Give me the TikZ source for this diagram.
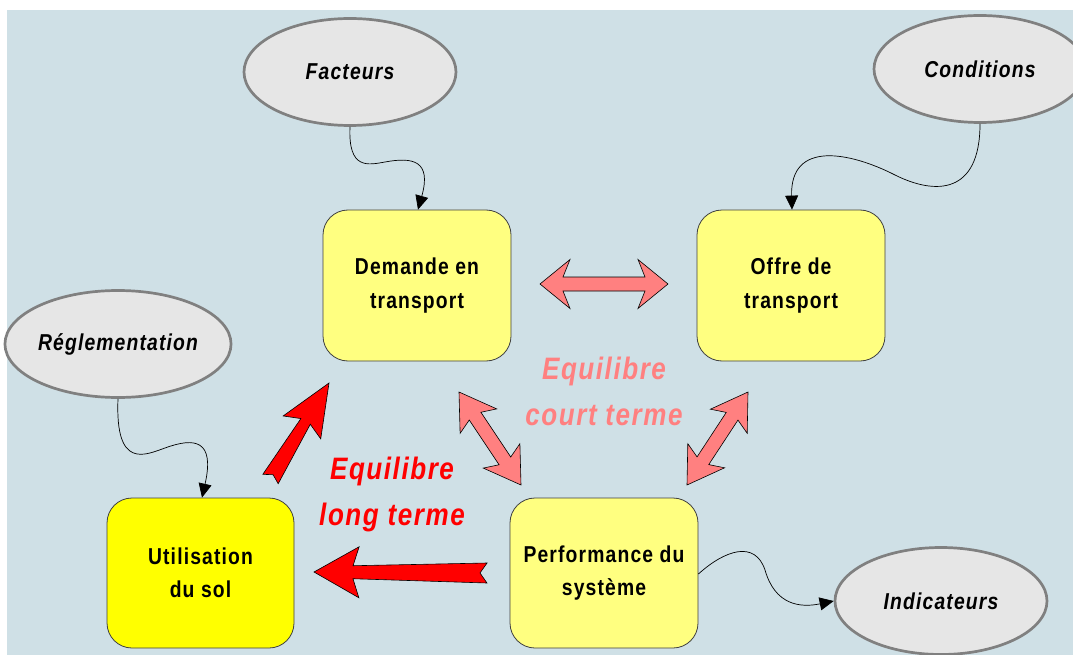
\documentclass[tikz,border=0pt]{standalone}
\usepackage{fontspec}
\setmainfont{Liberation Sans}[FakeStretch=0.84,LetterSpace=5]
\usetikzlibrary{shapes.geometric,arrows.meta,calc}

\definecolor{bgblue}{RGB}{207,224,230}
\definecolor{paleyellow}{RGB}{255,255,128}
\definecolor{brightyellow}{RGB}{255,255,0}
\definecolor{ovalgrey}{RGB}{230,230,230}
\definecolor{ovalrim}{RGB}{128,128,128}
\definecolor{shortpink}{RGB}{255,128,128}
\definecolor{longred}{RGB}{255,0,0}

% Double-headed block arrow between #2 and #3:
% #4 head length, #5 distance to shaft junction, #6 head half-width, #7 shaft half-width
\newcommand\dblblock[7]{%
  \draw[#1] (#2)
    -- ($(#2)!#4pt!(#3)!#6pt!90:(#3)$)
    -- ($(#2)!#5pt!(#3)!#7pt!90:(#3)$)
    -- ($(#3)!#5pt!(#2)!#7pt!-90:(#2)$)
    -- ($(#3)!#4pt!(#2)!#6pt!-90:(#2)$)
    -- (#3)
    -- ($(#3)!#4pt!(#2)!#6pt!90:(#2)$)
    -- ($(#3)!#5pt!(#2)!#7pt!90:(#2)$)
    -- ($(#2)!#5pt!(#3)!#7pt!-90:(#3)$)
    -- ($(#2)!#4pt!(#3)!#6pt!-90:(#3)$)
    -- cycle;}

% Single block arrow with notched tail from #2 (tail) to #3 (tip):
% #4 head length, #5 junction distance, #6 head half-width,
% #7 shaft half-width at head, #8 shaft half-width at tail, #9 notch depth
\newcommand\oneblock[9]{%
  \draw[#1] (#3)
    -- ($(#3)!#4pt!(#2)!#6pt!-90:(#2)$)
    -- ($(#3)!#5pt!(#2)!#7pt!-90:(#2)$)
    -- ($(#2)!#8pt!90:(#3)$)
    -- ($(#2)!#9pt!(#3)$)
    -- ($(#2)!#8pt!-90:(#3)$)
    -- ($(#3)!#5pt!(#2)!#7pt!90:(#2)$)
    -- ($(#3)!#4pt!(#2)!#6pt!90:(#2)$)
    -- cycle;}

\tikzset{
  box/.style={rectangle, rounded corners=25pt, draw=black!75, line width=0.8pt,
    fill=paleyellow, minimum width=188pt, minimum height=151pt, inner sep=0pt,
    align=center, font=\fontsize{23}{33.5}\selectfont\bfseries},
  oval/.style={ellipse, draw=ovalrim, line width=2.7pt, fill=ovalgrey,
    minimum width=212pt, minimum height=107pt, inner sep=0pt,
    font=\fontsize{23}{26}\selectfont\bfseries\itshape},
  link/.style={draw=black, line width=0.7pt, -{Triangle[length=14pt,width=13pt]}},
  blockshort/.style={fill=shortpink, draw=black, line width=0.6pt, line join=miter},
  blocklong/.style={fill=longred, draw=black, line width=0.6pt, line join=miter},
  eqtext/.style={align=center, inner sep=0pt, font=\fontsize{31}{46}\selectfont\bfseries\itshape}
}

\begin{document}
\begin{tikzpicture}[x=1pt,y=-1pt]
  \useasboundingbox (0,0) rectangle (1073,655);
  \fill[white] (0,0) rectangle (1073,655);
  \fill[bgblue] (7,10) rectangle (1073,655);

  % main blocks
  \node[box] (dem) at (417,285.5) {\raisebox{-2pt}{Demande en}\\\raisebox{-2pt}{transport}};
  \node[box] (off) at (791,285.5) {\raisebox{-2pt}{Offre de}\\\raisebox{-2pt}{transport}};
  \node[box, fill=brightyellow, minimum width=187pt, minimum height=150pt] (uti) at (200.5,573) {Utilisation\\du sol};
  \node[box, minimum height=150pt] (perf) at (604,573) {Performance du\\système};

  % external factors
  \node[oval] (fac) at (350,72) {Facteurs};
  \node[oval] (cond) at (980,69) {Conditions};
  \node[oval] (regl) at (118,344) {Réglementation};
  \node[oval] (ind) at (941,601) {Indicateurs};

  % equilibrium labels
  \node[eqtext, text=shortpink] (court) at (604,391) {Equilibre\\court terme};
  \node[eqtext, text=longred] (long) at (392,494) {Equilibre\\long terme};

  % short-term interactions
  \coordinate (s1a) at (540,284);  \coordinate (s1b) at (668,284);
  \coordinate (s2a) at (459,392);  \coordinate (s2b) at (521,485);
  \coordinate (s3a) at (748,392);  \coordinate (s3b) at (687,485);
  \dblblock{blockshort}{s1a}{s1b}{30}{23}{24.5}{7}
  \dblblock{blockshort}{s2a}{s2b}{35}{29}{22}{7}
  \dblblock{blockshort}{s3a}{s3b}{35}{29}{22}{7}

  % long-term feedback
  \coordinate (l1t) at (270.5,479); \coordinate (l1h) at (329,383);
  \coordinate (l2t) at (487,573);   \coordinate (l2h) at (314,572);
  \oneblock{blocklong}{l1t}{l1h}{52}{45}{22}{5.5}{9}{5}
  \oneblock{blocklong}{l2t}{l2h}{45}{39}{25.5}{6.5}{10}{7}

  % influences
  \draw[link] (fac.south) .. controls (348,170) and (368,165) .. (385,162)
    .. controls (412,157) and (432,160) .. ([xshift=1pt]dem.north);
  \draw[link] (cond.south) .. controls (980,195) and (935,195) .. (895,175)
    .. controls (850,152) and (790,140) .. ([xshift=1pt]off.north);
  \draw[link] (regl.south) .. controls (115,470) and (145,455) .. (165,448)
    .. controls (195,437) and (215,440) .. ([xshift=1.5pt]uti.north);
  \draw[link] ([yshift=-1pt]perf.east) .. controls (725,550) and (755,540) .. (765,570)
    .. controls (775,605) and (800,608) .. (ind.west);
\end{tikzpicture}
\end{document}
